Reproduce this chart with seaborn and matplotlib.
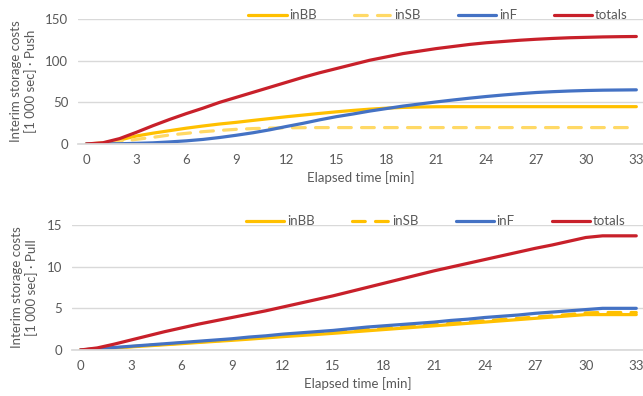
import pandas as pd
import matplotlib
matplotlib.use("Agg")
import matplotlib.pyplot as plt
import seaborn as sns

# elapsed time [min]
minutes = list(range(0, 34))

# Push scenario (1 000 sec)
push_inBB = [0, 1.2, 4.8, 9.6, 13, 16, 19, 21.6, 24, 26, 28.3, 30.5, 32.7, 34.7,
             36.7, 38.6, 40.3, 41.8, 43, 43.9, 44.4, 44.7, 44.8, 44.8, 44.8,
             44.8, 44.8, 44.8, 44.8, 44.8, 44.8, 44.8, 44.8, 44.8]
push_inSB = [0, 0.8, 2.8, 5.6, 8, 10.8, 12.8, 14.8, 16.3, 17.6, 18.5, 19.1,
             19.4, 19.6, 19.7, 19.7, 19.7, 19.7, 19.7, 19.7, 19.7, 19.7, 19.7,
             19.7, 19.7, 19.7, 19.7, 19.7, 19.7, 19.7, 19.7, 19.7, 19.7, 19.7]
push_inF = [0, 0.1, 0.3, 0.8, 1.4, 2.5, 3.8, 5.5, 7.8, 10.5, 13.5, 17, 21,
            24.8, 29, 32.8, 36, 39.5, 42.5, 45.5, 48, 50.5, 52.8, 55, 57,
            58.8, 60.4, 61.8, 62.8, 63.6, 64.2, 64.6, 64.8, 65]
push_totals = [0, 1.5, 6.5, 14, 22, 29.5, 36.5, 43, 50, 56, 62, 68, 74, 80,
               85.5, 90.5, 95.5, 100.5, 104.5, 108.5, 111.5, 114.5, 117,
               119.5, 121.5, 123, 124.5, 125.7, 126.7, 127.5, 128, 128.5,
               128.8, 129]

# Pull scenario (1 000 sec)
pull_inBB = [0, 0.12, 0.25, 0.38, 0.5, 0.63, 0.76, 0.9, 1.03, 1.16, 1.3, 1.45,
             1.6, 1.73, 1.86, 2.0, 2.15, 2.3, 2.45, 2.6, 2.75, 2.9, 3.05, 3.2,
             3.35, 3.5, 3.65, 3.8, 3.95, 4.1, 4.25, 4.25, 4.25, 4.25]
pull_inSB = [0, 0.13, 0.27, 0.41, 0.55, 0.69, 0.83, 0.97, 1.1, 1.24, 1.4,
             1.55, 1.7, 1.85, 2.0, 2.15, 2.3, 2.45, 2.6, 2.75, 2.9, 3.05, 3.2,
             3.35, 3.5, 3.65, 3.8, 3.95, 4.1, 4.25, 4.45, 4.5, 4.5, 4.5]
pull_inF = [0, 0.15, 0.3, 0.45, 0.6, 0.75, 0.9, 1.05, 1.2, 1.35, 1.55, 1.7,
            1.9, 2.05, 2.2, 2.35, 2.55, 2.75, 2.9, 3.05, 3.2, 3.35, 3.55, 3.7,
            3.9, 4.05, 4.2, 4.4, 4.55, 4.7, 4.85, 5.0, 5.0, 5.0]
pull_totals = [0, 0.25, 0.7, 1.2, 1.7, 2.2, 2.65, 3.1, 3.5, 3.9, 4.3, 4.7,
               5.15, 5.6, 6.05, 6.5, 7.0, 7.5, 8.0, 8.5, 9.0, 9.5, 9.95, 10.4,
               10.85, 11.3, 11.75, 12.2, 12.6, 13.05, 13.5, 13.7, 13.7, 13.7]

series_names = ["inBB", "inSB", "inF", "totals"]
x_ticks = list(range(0, 34, 3))

TEXT = "#595959"
GRID = "#d9d9d9"


def to_long(values):
    frames = []
    for name, vals in zip(series_names, values):
        frames.append(pd.DataFrame({"minute": minutes, "cost": vals, "series": name}))
    return pd.concat(frames, ignore_index=True)


def draw_panel(ax, df, palette, yticks, ylabel):
    sns.lineplot(data=df, x="minute", y="cost", hue="series", style="series",
                 hue_order=series_names, style_order=series_names,
                 palette=palette,
                 dashes={"inBB": "", "inSB": (4, 3.2), "inF": "", "totals": ""},
                 linewidth=2.3, ax=ax, legend=True)
    for line in ax.get_lines():
        line.set_solid_capstyle("round")
        line.set_solid_joinstyle("round")
        line.set_dash_capstyle("round")
    ax.set_xlim(-0.5, 33.4)
    ax.set_ylim(yticks[0], yticks[-1])
    ax.set_xticks(x_ticks)
    ax.set_yticks(yticks)
    ax.grid(axis="y", color=GRID, linewidth=1)
    ax.grid(axis="x", visible=False)
    for side in ["top", "right", "left"]:
        ax.spines[side].set_visible(False)
    ax.spines["bottom"].set_color(GRID)
    ax.tick_params(length=0, pad=7, colors=TEXT, labelsize=9.5)
    ax.set_xlabel("Elapsed time [min]", color=TEXT, fontsize=9.5, labelpad=4)
    ax.set_ylabel(ylabel, color=TEXT, fontsize=9.5, labelpad=6)
    handles, labels = ax.get_legend_handles_labels()
    ax.legend(handles, labels, loc="center", bbox_to_anchor=(0.637, 1.03),
              ncol=4, frameon=False, fontsize=9.5, labelcolor=TEXT,
              handlelength=2.9, handletextpad=0.2, columnspacing=2.8,
              borderaxespad=0)


sns.set_theme(style="white")
plt.rcParams["font.family"] = ["Lato", "DejaVu Sans"]

fig = plt.figure(figsize=(6.43, 3.96), dpi=100)
ax_push = fig.add_axes([78 / 643, 1 - 144 / 396, 565 / 643, 125 / 396])
ax_pull = fig.add_axes([72 / 643, 1 - 350 / 396, 571 / 643, 125 / 396])

draw_panel(ax_push, to_long([push_inBB, push_inSB, push_inF, push_totals]),
           {"inBB": "#FFC000", "inSB": "#FFD966", "inF": "#4472C4", "totals": "#C8202A"},
           [0, 50, 100, 150], "Interim storage costs\n[1 000 sec] · Push")
draw_panel(ax_pull, to_long([pull_inBB, pull_inSB, pull_inF, pull_totals]),
           {"inBB": "#FFC000", "inSB": "#FFC000", "inF": "#4472C4", "totals": "#C8202A"},
           [0, 5, 10, 15], "Interim storage costs\n[1 000 sec] · Pull")

fig.savefig("out.png", dpi=100)
